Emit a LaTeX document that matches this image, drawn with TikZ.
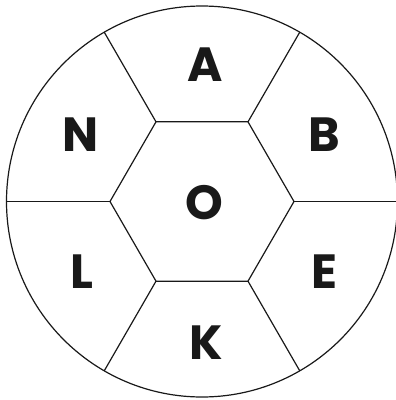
\documentclass[tikz,border=0pt]{standalone}
\usepackage{fontspec}
\setmainfont{Poppins}
\begin{document}
\begin{tikzpicture}[x=1pt,y=-1pt,
  edge/.style={line width=1.2pt,draw=black!90},
  letter/.style={anchor=base,inner sep=0pt,font=\fontsize{48}{48}\selectfont\bfseries,text=black!90}]
\useasboundingbox (0,0) rectangle (396,400);
\coordinate (c) at (202,201.5);
\foreach \a/\n in {0/h0,60/h1,120/h2,180/h3,240/h4,300/h5}{
  \coordinate (\n) at ([shift={(c)}]\a:92);
  \coordinate (o\n) at ([shift={(c)}]\a:195.5);
}
\draw[edge] (c) circle[radius=195.5];
\draw[edge] (h0) -- (h1) -- (h2) -- (h3) -- (h4) -- (h5) -- cycle;
\foreach \n in {h0,h1,h2,h3,h4,h5}{
  \draw[edge] (\n) -- (o\n);
}
\node[letter] (A) at (205,81) {A};
\node[letter] (B) at (324,151.5) {B};
\node[letter] (N) at (81,151) {N};
\node[letter] (O) at (204,219) {O};
\node[letter] (L) at (82,288.5) {L};
\node[letter] (E) at (324,288.5) {E};
\node[letter] (K) at (206,359) {K};
\end{tikzpicture}
\end{document}
